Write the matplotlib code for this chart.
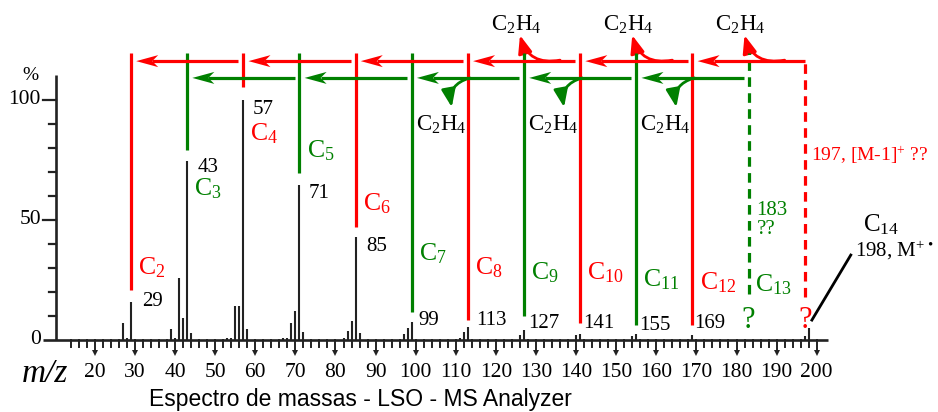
"""Mass spectrum of tetradecane with C2H4 loss series."""
import matplotlib
matplotlib.use("Agg")
import matplotlib.pyplot as plt
from matplotlib.patches import Polygon, FancyArrowPatch

plt.rcParams["font.family"] = ["Liberation Serif", "DejaVu Serif"]
plt.rcParams["mathtext.fontset"] = "custom"
plt.rcParams["mathtext.rm"] = "Liberation Serif"
plt.rcParams["mathtext.it"] = "Liberation Serif:italic"

# --- data ---
mz = [27, 28, 29, 39, 40, 41, 42, 43, 44, 53, 54, 55, 56, 57, 58,
      67, 68, 69, 70, 71, 72, 82, 83, 84, 85, 86, 97, 98, 99,
      111, 112, 113, 126, 127, 140, 141, 154, 155, 169, 197, 198]
intensity = [7, 1, 16, 4.5, 1, 26, 9, 74.5, 3, 1, 1, 14, 14, 100, 4.5,
             1, 1, 7, 12, 64.5, 3.5, 1, 3.7, 8, 43, 3, 2.5, 5, 7.5,
             1, 3.5, 5.5, 2, 4, 2, 2.5, 1.5, 2.5, 2, 1.5, 5]

frag_mz = [29, 43, 57, 71, 85, 99, 113, 127, 141, 155, 169]
frag_carbons = [2, 3, 4, 5, 6, 7, 8, 9, 10, 11, 12]
unknown_mz = [183, 197]          # C13 (green) and [M-1]+ (red), not observed
mol_ion = 198

x_ticks = list(range(20, 201, 10))
y_ticks = [0, 50, 100]

RED = "#ff0000"
GREEN = "#008000"

# pixel scale of the original drawing (px per unit)
SX, SY = 4.01, 2.4
W, H = 938, 412
X0 = 30 - 135 / SX
Y1 = 340 / SY

fig = plt.figure(figsize=(W / 100, H / 100), dpi=100)
ax = fig.add_axes([0, 0, 1, 1])
ax.set_xlim(X0, X0 + W / SX)
ax.set_ylim(Y1 - H / SY, Y1)
ax.axis("off")


def head(x, y, color, d=-1, length=22, half=6, notch=6):
    # stealth-like arrow head, d=-1 points left
    pts = [(x, y),
           (x - d * length / SX, y + half / SY),
           (x - d * (length - notch) / SX, y),
           (x - d * length / SX, y - half / SY)]
    ax.add_patch(Polygon(pts, closed=True, facecolor=color, edgecolor="none", zorder=4))


# --- axes drawn by hand ---
y_axis_x = X0 + 56 / SX
ax.plot([y_axis_x, y_axis_x], [0, 110.5], color="#222", lw=1.9, solid_capstyle="butt")
ax.plot([y_axis_x - 13 / SX, X0 + 828 / SX], [0, 0], color="#222", lw=1.9, solid_capstyle="butt")
for v in range(10, 110, 10):
    ln = 13 if v in y_ticks else 7
    ax.plot([y_axis_x - ln / SX, y_axis_x], [v, v], color="#222", lw=1.6)
for v in y_ticks:
    ax.text(X0 + 41 / SX, v, str(v), ha="right", va="center", fontsize=15.5)
ax.text(X0 + 30 / SX, 110, "%", ha="center", va="center", fontsize=14)

for m in range(14, 200, 2):
    if m % 10:
        ax.plot([m, m], [0, -7 / SY], color="#222", lw=1.4)
for m in x_ticks:
    ax.plot([m, m], [0, -13 / SY], color="#222", lw=1.4)
    ax.plot(m, -13 / SY, marker="v", color="#222", ms=4.5, mew=0)
    ax.text(m, -13.4, str(m), ha="center", va="center", fontsize=15.5)
ax.text(X0 + 45 / SX, -14.2, "m/z", ha="center", va="center", fontsize=24,
        fontstyle="italic")
ax.text(X0 + 360 / SX, -27.6, "Espectro de massas - LSO - MS Analyzer",
        ha="center", va="baseline", fontsize=16.5, family="Liberation Sans")

# --- peaks ---
ax.vlines(mz, 0, intensity, color="#222", lw=1.5)

# --- fragment lines and labels ---
line_bottom = [21, 79, 105.4, 69.6, 47, 11.7, 8.3, 10, 7, 6.3, 6.3]
c_label_v = [30, 63, 86, 79, 57, 36, 30, 28, 28, 25, 24]
num_dx = [2.75, 2.5, 2.25, 2.25, 2.75, 1.75, 2, 1, 0.75, 0.75, 0.5]
num_v = [16, 71.7, 96, 61, 39, 8.3, 8, 7, 7, 6, 7]
TOP = 119.5
for i, m in enumerate(frag_mz):
    col = RED if frag_carbons[i] % 2 == 0 else GREEN
    ax.plot([m, m], [line_bottom[i], TOP], color=col, lw=2.3, solid_capstyle="butt")
    ax.text(m + 1.8, c_label_v[i], r"$\mathrm{C_{%d}}$" % frag_carbons[i],
            color=col, ha="left", va="center", fontsize=18.5)
    ax.text(m + num_dx[i], num_v[i], str(m), ha="left", va="center", fontsize=15)

ax.plot([unknown_mz[0]] * 2, [19, TOP], color=GREEN, lw=2.3, ls=(0, (3, 2)))
ax.plot([unknown_mz[1]] * 2, [18, 117], color=RED, lw=2.3, ls=(0, (3, 2)))
ax.text(unknown_mz[0] + 1.5, 23, r"$\mathrm{C_{13}}$", color=GREEN, ha="left",
        va="center", fontsize=18.5)
ax.text(unknown_mz[0], 8.3, "?", color=GREEN, ha="center", va="center", fontsize=22)
ax.text(unknown_mz[1], 8.3, "?", color=RED, ha="center", va="center", fontsize=22)
ax.text(unknown_mz[0] + 2, 54, "183", color=GREEN, ha="left", va="center", fontsize=15)
ax.text(unknown_mz[0] + 2, 46, "??", color=GREEN, ha="left", va="center", fontsize=15)
ax.text(unknown_mz[1] + 1.6, 77, r"197, [M-1]$^{+}$ ??", color=RED, ha="left",
        va="center", fontsize=14)

ax.plot([mol_ion + 0.8, mol_ion + 10.5], [8.3, 35.4], color="black", lw=2)
ax.text(mol_ion + 13.5, 48, r"$\mathrm{C_{14}}$", ha="left", va="center", fontsize=18)
ax.text(mol_ion + 11.5, 37.5, "198, M$^{+\\ \u2022}$", ha="left", va="center",
        fontsize=15)

# --- horizontal loss arrows ---
red_chain = [m for m, c in zip(frag_mz, frag_carbons) if c % 2 == 0] + [unknown_mz[1]]
green_chain = [m for m, c in zip(frag_mz, frag_carbons) if c % 2 == 1] + [unknown_mz[0]]
RED_V, GREEN_V = 116.2, 109.2
for chain, col, v, first_gap in [(red_chain, RED, RED_V, 0.0),
                                 (green_chain, GREEN, GREEN_V, 1.2)]:
    for k in range(len(chain) - 1):
        lo, hi = chain[k], chain[k + 1]
        start = hi - (first_gap if k == len(chain) - 2 else 1.2)
        tip = lo + 1.3
        ax.plot([start, tip + 16 / SX], [v, v], color=col, lw=2.3, solid_capstyle="butt")
        head(tip, v, col)

# --- C2H4 loss curls ---
curl = "-|>,head_length=0.9,head_width=0.35"
for g in green_chain[-3:]:
    arr = FancyArrowPatch((g + 9, RED_V + 0.4), (g - 1, 127),
                          connectionstyle="arc3,rad=-0.45", arrowstyle=curl,
                          mutation_scale=12, color=RED, lw=2, shrinkA=0, shrinkB=0)
    ax.add_artist(arr)
    ax.text(g - 2, 131.5, r"$\mathrm{C_2H_4}$", ha="center", va="center", fontsize=16.5)
for r in red_chain[3:6]:
    arr = FancyArrowPatch((r + 0.5, GREEN_V), (r - 4, 97),
                          connectionstyle="arc3,rad=0.45", arrowstyle=curl,
                          mutation_scale=12, color=GREEN, lw=2, shrinkA=0, shrinkB=0)
    ax.add_artist(arr)
    ax.text(r - 6.7, 89.5, r"$\mathrm{C_2H_4}$", ha="center", va="center", fontsize=16.5)

fig.savefig("out.png", dpi=100)
